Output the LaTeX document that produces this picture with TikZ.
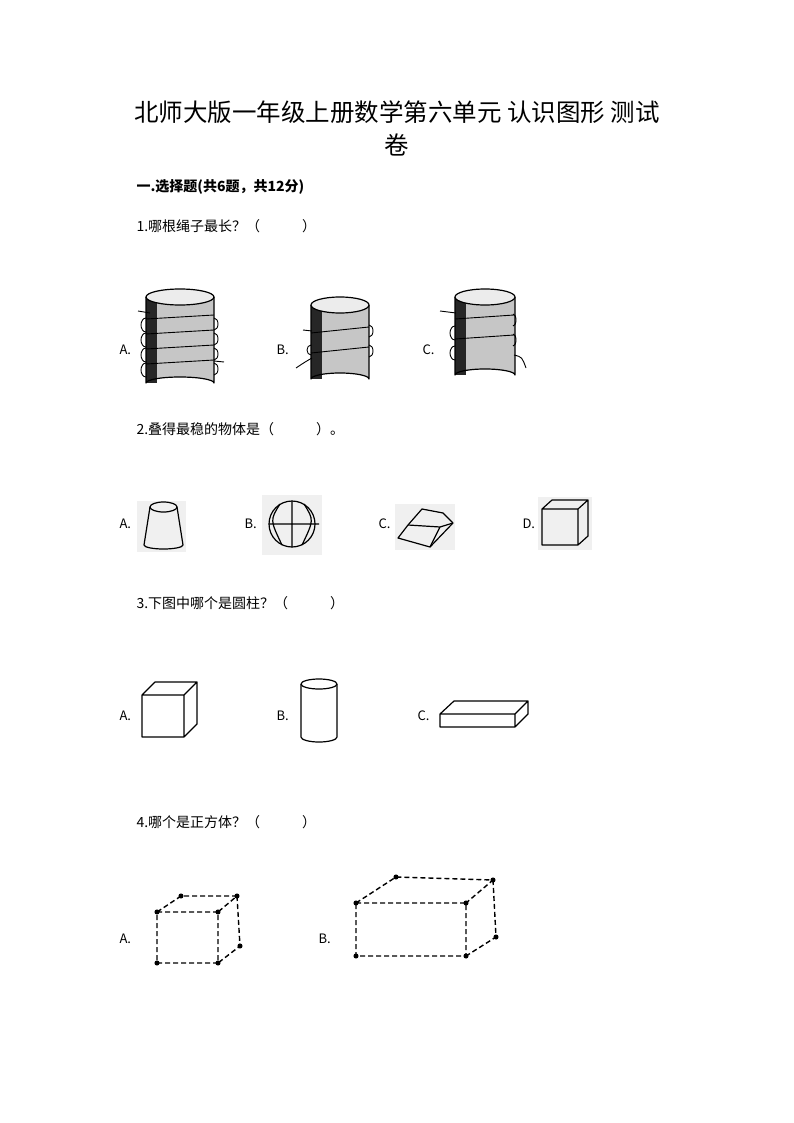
\documentclass[tikz,border=0pt]{standalone}
\usepackage{fontspec}
\setmainfont{Noto Sans CJK SC}
\begin{document}
\begin{tikzpicture}[x=1pt,y=-1pt,
  lbl/.style={anchor=west,font=\fontsize{13}{13}\selectfont},
  q/.style={anchor=west,font=\fontsize{14}{14}\selectfont},
  ln/.style={line width=1.2pt,line join=round},
  dl/.style={line width=1.4pt,dashed,dash pattern=on 5pt off 3pt},
  dot/.style={circle,fill,inner sep=1.8pt}]
\useasboundingbox (0,0) rectangle (794,1123);
\node (t1) at (397,112) {\fontsize{24.5}{24.5}\selectfont 北师大版一年级上册数学第六单元 认识图形 测试};
\node (t2) at (397,145) {\fontsize{24.5}{24.5}\selectfont 卷};
\node[q] (s1) at (133,187) {\bfseries 一.选择题(共6题，共12分)};
\node[q] (q1) at (133,226) {1.哪根绳子最长？（\hspace{3em}）};
\node[lbl] (a1) at (116,350) {A.};
\node[lbl] (b1) at (273,350) {B.};
\node[lbl] (c1) at (419,350) {C.};
% cylinders
\foreach \cx/\cy/\w/\h in {180/297/34/86, 340/305/29/74, 485/297/30/78}{
  \fill[gray!45] (\cx-\w,\cy) -- (\cx-\w,\cy+\h) arc[start angle=180,end angle=360,x radius=\w,y radius=6] -- (\cx+\w,\cy) arc[start angle=0,end angle=180,x radius=\w,y radius=6];
  \fill[black!85] (\cx-\w,\cy) rectangle (\cx-\w+11,\cy+\h);
  \draw[ln] (\cx-\w,\cy) -- (\cx-\w,\cy+\h) arc[start angle=180,end angle=360,x radius=\w,y radius=6] -- (\cx+\w,\cy);
  \draw[ln,fill=gray!15] (\cx,\cy) ellipse [x radius=\w,y radius=8];
}
% ropes A
\foreach \yy in {318,333,348,363}{\draw[line width=0.9pt] (146,\yy) arc[start angle=270,end angle=90,x radius=5,y radius=7] (214,\yy) arc[start angle=-90,end angle=90,x radius=4,y radius=6];
 \draw[line width=0.9pt] (146,\yy+1) -- (214,\yy-3);}
\draw[line width=0.9pt] (138,311) -- (150,313) (214,361) -- (224,362);
% ropes B
\foreach \yy in {325,345}{\draw[line width=0.9pt] (369,\yy) arc[start angle=-90,end angle=90,x radius=4,y radius=6];\draw[line width=0.9pt] (311,\yy+8) -- (369,\yy+2);}
\draw[line width=0.9pt] (303,330) -- (312,331) (296,368) .. controls (305,362) .. (312,358) (311,345) arc[start angle=270,end angle=90,x radius=4,y radius=5];
% ropes C
\foreach \yy in {318,338}{\draw[line width=0.9pt] (455,\yy+8) arc[start angle=270,end angle=90,x radius=5,y radius=7];\draw[line width=0.9pt] (513,\yy-4) arc[start angle=-90,end angle=90,x radius=3,y radius=6]; \draw[line width=0.9pt] (455,\yy+1) -- (514,\yy-3);}
\draw[line width=0.9pt] (440,311) -- (456,313) (514,355) .. controls (522,357) .. (526,368);
% Q2
\node[q] (q2) at (133,429) {2.叠得最稳的物体是（\hspace{3em}）。};
\node[lbl] (a2) at (116,524) {A.};
\node[lbl] (b2) at (241,524) {B.};
\node[lbl] (c2) at (375,524) {C.};
\node[lbl] (d2) at (519,524) {D.};
\fill[gray!12] (137,501) rectangle (186,552);
\draw[ln] (150,507) -- (144,545) arc[start angle=180,end angle=0,x radius=19.5,y radius=4] -- (177,507);
\draw[ln] (163.5,507) ellipse [x radius=13.5,y radius=5];
\fill[gray!12] (262,495) rectangle (322,555);
\draw[ln] (292,524) circle (23);
\draw[ln] (269,524) -- (319,524) (292,501) -- (292,547)
  (280,504) .. controls (270,520) .. (282,545) (304,504) .. controls (314,520) .. (302,545);
\fill[gray!12] (395,504) rectangle (455,550);
\draw[ln] (422,509) -- (443,513) -- (453,523) -- (430,547) -- (398,538) -- (408,525) -- cycle;
\draw[ln] (408,525) -- (440,527) -- (430,547) (440,527) -- (453,523);
\fill[gray!12] (538,497) rectangle (592,550);
\draw[ln] (542,509) rectangle (578,545) (542,509) -- (552,500) -- (588,500) -- (578,509) (588,500) -- (588,536) -- (578,545);
% Q3
\node[q] (q3) at (133,603) {3.下图中哪个是圆柱？（\hspace{3em}）};
\node[lbl] (a3) at (116,716) {A.};
\node[lbl] (b3) at (273,716) {B.};
\node[lbl] (c3) at (414,716) {C.};
\draw[ln] (142,695) rectangle (184,737) (142,695) -- (155,682) -- (197,682) -- (184,695) (197,682) -- (197,724) -- (184,737);
\draw[ln] (301,684) -- (301,737) arc[start angle=180,end angle=0,x radius=18,y radius=5] -- (337,684);
\draw[ln] (319,684) ellipse [x radius=18,y radius=5];
\draw[ln] (440,714) rectangle (515,727) (440,714) -- (454,701) -- (528,701) -- (515,714) (528,701) -- (528,714) -- (515,727);
% Q4
\node[q] (q4) at (133,822) {4.哪个是正方体？（\hspace{3em}）};
\node[lbl] (a4) at (116,939) {A.};
\node[lbl] (b4) at (315,939) {B.};
\coordinate (A1) at (157,912); \coordinate (A2) at (218,912);
\coordinate (A3) at (218,963); \coordinate (A4) at (157,963);
\coordinate (A5) at (181,896); \coordinate (A6) at (237,896); \coordinate (A7) at (240,946);
\draw[dl] (A1) -- (A2) -- (A3) -- (A4) -- cycle (A1) -- (A5) -- (A6) -- (A2) (A6) -- (A7) -- (A3);
\foreach \p in {A1,A2,A3,A4,A5,A6,A7} \node[dot] at (\p) {};
\coordinate (B1) at (356,903); \coordinate (B2) at (466,903);
\coordinate (B3) at (466,956); \coordinate (B4) at (356,956);
\coordinate (B5) at (396,877); \coordinate (B6) at (493,880); \coordinate (B7) at (496,937);
\draw[dl] (B1) -- (B2) -- (B3) -- (B4) -- cycle (B1) -- (B5) -- (B6) -- (B2) (B6) -- (B7) -- (B3);
\foreach \p in {B1,B2,B3,B4,B5,B6,B7} \node[dot] at (\p) {};
\end{tikzpicture}
\end{document}
